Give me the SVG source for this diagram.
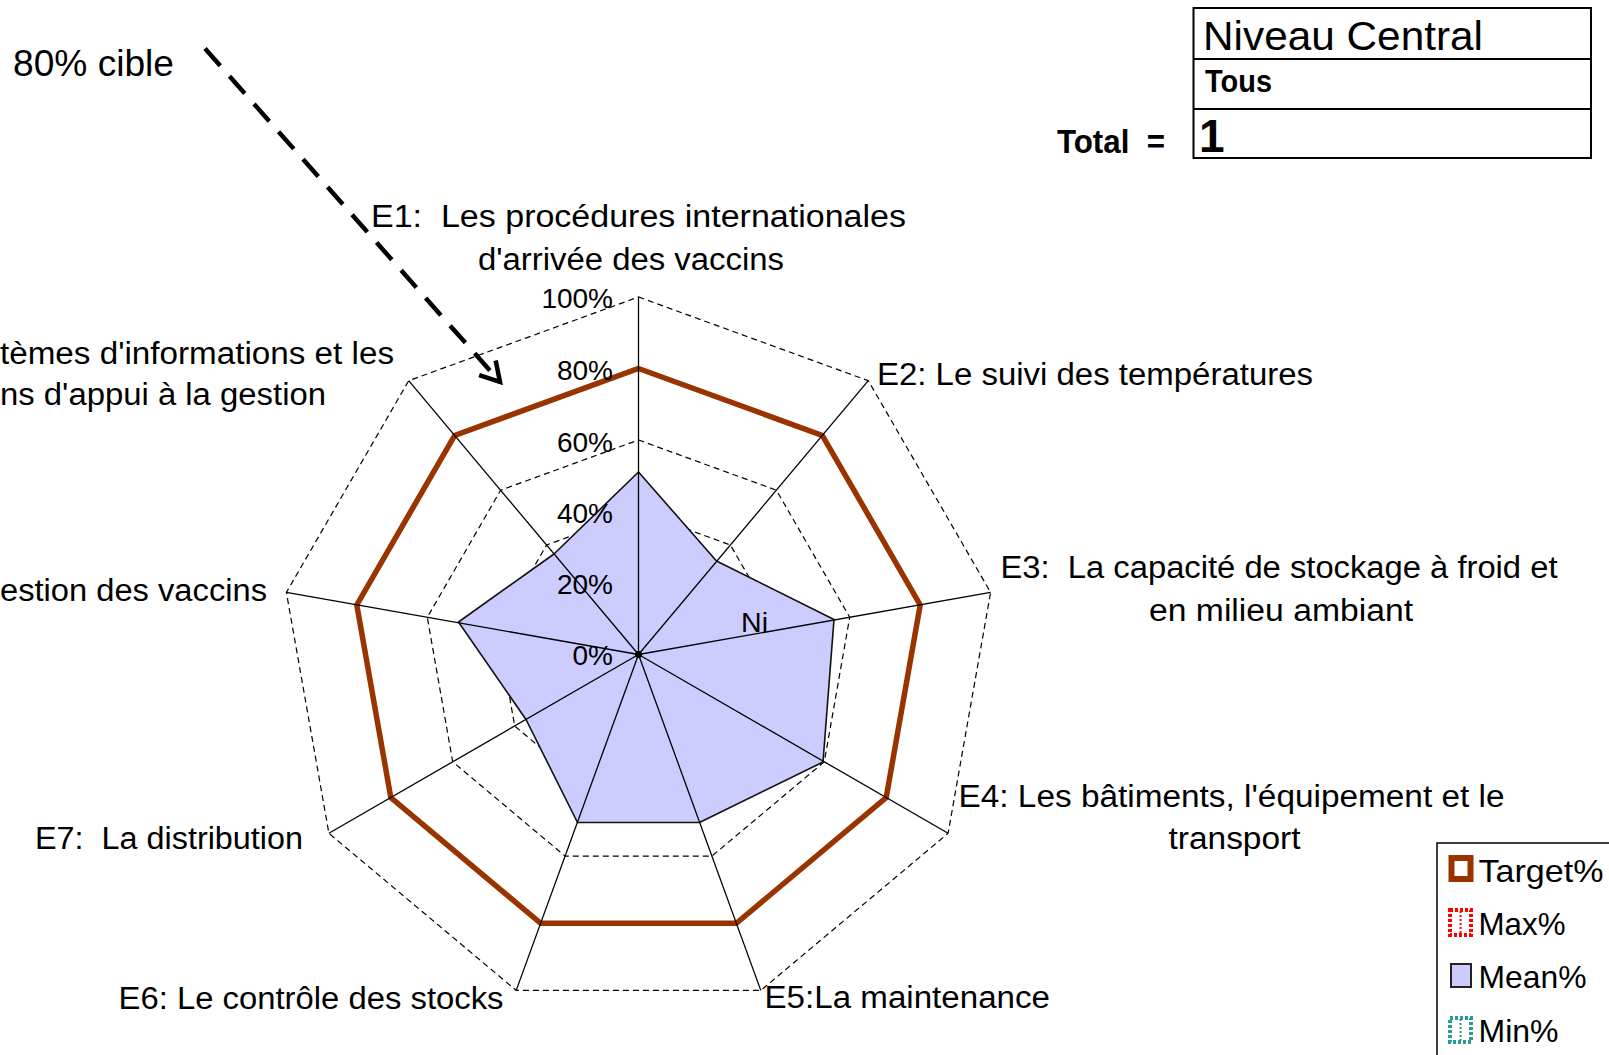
<svg xmlns="http://www.w3.org/2000/svg" width="1609" height="1055" viewBox="0 0 1609 1055">
<style>
  text { font-family: "Liberation Sans", Arial, sans-serif; fill: #000; }
  .lbl { font-size: 31px; }
  .pct { font-size: 28px; text-anchor: end; }
  .ring { fill: none; stroke: #000; stroke-width: 1.2; stroke-dasharray: 6 4; }
  .axis { stroke: #000; stroke-width: 1.3; }
  .target { fill: none; stroke: #993300; stroke-width: 5.5; stroke-linejoin: miter; }
  .mean { fill: #CCCCFF; stroke: #111; stroke-width: 1.6; stroke-linejoin: round; }
  .box { fill: #fff; stroke: #000; stroke-width: 2; }
  .leg { font-size: 32px; }
</style>
<defs>
  <marker id="openArrow" markerUnits="userSpaceOnUse" viewBox="-26 -15 30 30" refX="0" refY="0" markerWidth="30" markerHeight="30" orient="auto">
    <path d="M-19,-11 L0,0 L-19,11" fill="none" stroke="#000" stroke-width="4.5"/>
  </marker>
</defs>
<rect width="1609" height="1055" fill="#fff"/>

<g id="table">
  <rect class="box" x="1193.5" y="8" width="397.5" height="150"/>
  <line x1="1193.5" y1="59" x2="1591" y2="59" stroke="#000" stroke-width="2"/>
  <line x1="1193.5" y1="109" x2="1591" y2="109" stroke="#000" stroke-width="2"/>
  <text x="1203" y="50" font-size="41" textLength="280" lengthAdjust="spacingAndGlyphs">Niveau Central</text>
  <text x="1205" y="92" font-size="31" font-weight="bold" textLength="67" lengthAdjust="spacingAndGlyphs">Tous</text>
  <text x="1199" y="151.5" font-size="46" font-weight="bold">1</text>
  <text x="1057" y="153" font-size="33" font-weight="bold" textLength="108" lengthAdjust="spacingAndGlyphs" xml:space="preserve">Total  =</text>
</g>

<g id="chart-grid">
  <polygon class="ring" points="638.5,583 684.5,599.7 708.9,642.1 700.4,690.3 663,721.7 614,721.7 576.6,690.3 568.1,642.1 592.6,599.7"/>
  <polygon class="ring" points="638.5,511.5 730.4,545 779.3,629.7 762.3,726 687.4,788.9 589.6,788.9 514.7,726 497.7,629.7 546.6,545"/>
  <polygon class="ring" points="638.5,440 776.4,490.2 849.7,617.3 824.3,761.8 711.9,856.1 565.1,856.1 452.7,761.8 427.3,617.3 500.6,490.2"/>
  <polygon class="ring" points="638.5,368.5 822.3,435.4 920.2,604.9 886.2,797.5 736.3,923.3 540.7,923.3 390.8,797.5 356.8,604.9 454.7,435.4"/>
  <polygon class="ring" points="638.5,297 868.3,380.7 990.6,592.4 948.1,833.3 760.8,990.4 516.2,990.4 328.9,833.3 286.4,592.4 408.7,380.7"/>
</g>

<g id="series-mean">
  <polygon class="mean" points="638.5,472 716.5,561 834,619.5 823,762 699.5,822.5 577.5,822.5 526,719.5 458.5,622 554,554"/>
</g>

<g id="series-target">
  <polygon class="target" points="638.5,368.5 822.3,435.4 920.2,604.9 886.2,797.5 736.3,923.3 540.7,923.3 390.8,797.5 356.8,604.9 454.7,435.4"/>
</g>

<g id="axes">
  <line class="axis" x1="638.5" y1="654.5" x2="638.5" y2="297" stroke-width="2"/>
  <line class="axis" x1="638.5" y1="654.5" x2="868.3" y2="380.7"/>
  <line class="axis" x1="638.5" y1="654.5" x2="990.6" y2="592.4"/>
  <line class="axis" x1="638.5" y1="654.5" x2="948.1" y2="833.3"/>
  <line class="axis" x1="638.5" y1="654.5" x2="760.8" y2="990.4"/>
  <line class="axis" x1="638.5" y1="654.5" x2="516.2" y2="990.4"/>
  <line class="axis" x1="638.5" y1="654.5" x2="328.9" y2="833.3"/>
  <line class="axis" x1="638.5" y1="654.5" x2="286.4" y2="592.4"/>
  <line class="axis" x1="638.5" y1="654.5" x2="408.7" y2="380.7"/>
  <circle cx="638.5" cy="654.5" r="3.5" fill="#000"/>
</g>

<g id="value-labels">
  <text class="pct" x="613" y="308">100%</text>
  <text class="pct" x="613" y="380">80%</text>
  <text class="pct" x="613" y="452">60%</text>
  <text class="pct" x="613" y="523">40%</text>
  <text class="pct" x="613" y="594">20%</text>
  <text class="pct" x="613" y="665">0%</text>
  <text x="741" y="631.5" font-size="28" textLength="27" lengthAdjust="spacingAndGlyphs">Ni</text>
</g>

<g id="label-E1">
  <text class="lbl" x="371" y="227" textLength="535" lengthAdjust="spacingAndGlyphs" xml:space="preserve">E1:  Les procédures internationales</text>
  <text class="lbl" x="478" y="270" textLength="306" lengthAdjust="spacingAndGlyphs">d'arrivée des vaccins</text>
</g>
<g id="label-E2">
  <text class="lbl" x="877" y="385" textLength="436" lengthAdjust="spacingAndGlyphs">E2: Le suivi des températures</text>
</g>
<g id="label-E3">
  <text class="lbl" x="1000.5" y="578" textLength="557" lengthAdjust="spacingAndGlyphs" xml:space="preserve">E3:  La capacité de stockage à froid et</text>
  <text class="lbl" x="1149" y="621" textLength="264" lengthAdjust="spacingAndGlyphs">en milieu ambiant</text>
</g>
<g id="label-E4">
  <text class="lbl" x="958.5" y="806.5" textLength="546" lengthAdjust="spacingAndGlyphs">E4: Les bâtiments, l'équipement et le</text>
  <text class="lbl" x="1168.5" y="848.5" textLength="132" lengthAdjust="spacingAndGlyphs">transport</text>
</g>
<g id="label-E5">
  <text class="lbl" x="764.5" y="1008" textLength="285.5" lengthAdjust="spacingAndGlyphs">E5:La maintenance</text>
</g>
<g id="label-E6">
  <text class="lbl" x="118.5" y="1009" textLength="385" lengthAdjust="spacingAndGlyphs">E6: Le contrôle des stocks</text>
</g>
<g id="label-E7">
  <text class="lbl" x="35" y="849" textLength="268" lengthAdjust="spacingAndGlyphs" xml:space="preserve">E7:  La distribution</text>
</g>
<g id="label-E8">
  <text class="lbl" x="0" y="600.5" textLength="267" lengthAdjust="spacingAndGlyphs">estion des vaccins</text>
</g>
<g id="label-E9">
  <text class="lbl" x="0" y="363.5" textLength="394" lengthAdjust="spacingAndGlyphs">tèmes d'informations et les</text>
  <text class="lbl" x="0" y="405" textLength="326" lengthAdjust="spacingAndGlyphs">ns d'appui à la gestion</text>
</g>

<g id="legend">
  <rect x="1437" y="843" width="200" height="240" fill="#fff" stroke="#000" stroke-width="1.5"/>
  <rect x="1451.5" y="858" width="19" height="21" fill="#fff" stroke="#993300" stroke-width="6"/>
  <text class="leg" x="1478.5" y="882" textLength="125" lengthAdjust="spacingAndGlyphs">Target%</text>
  <rect x="1450" y="910" width="21" height="25" fill="#fff" stroke="#FF0000" stroke-width="4" stroke-dasharray="3 2"/>
  <line x1="1460.5" y1="911" x2="1460.5" y2="934" stroke="#FF0000" stroke-width="2" stroke-dasharray="2 2"/>
  <text class="leg" x="1478.5" y="935" textLength="87" lengthAdjust="spacingAndGlyphs">Max%</text>
  <rect x="1451" y="964" width="20" height="23" fill="#CCCCFF" stroke="#222" stroke-width="2"/>
  <text class="leg" x="1478.5" y="988" textLength="108" lengthAdjust="spacingAndGlyphs">Mean%</text>
  <rect x="1450" y="1018" width="21" height="24" fill="#fff" stroke="#2A9A93" stroke-width="4" stroke-dasharray="3 2"/>
  <line x1="1460.5" y1="1019" x2="1460.5" y2="1041" stroke="#2A9A93" stroke-width="2" stroke-dasharray="2 2"/>
  <text class="leg" x="1478.5" y="1042" textLength="80" lengthAdjust="spacingAndGlyphs">Min%</text>
</g>

<g id="annotation">
  <text x="13" y="76" font-size="36" textLength="161" lengthAdjust="spacingAndGlyphs">80% cible</text>
</g>

<g id="connectors">
  <line x1="205" y1="48.5" x2="500" y2="382" stroke="#000" stroke-width="4.5" stroke-dasharray="23 14" marker-end="url(#openArrow)"/>
</g>
</svg>
